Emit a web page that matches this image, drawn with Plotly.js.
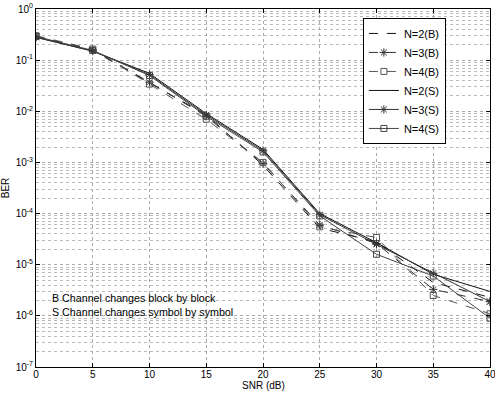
<!DOCTYPE html>
<html>
<head>
<meta charset="utf-8">
<script src="https://cdn.plot.ly/plotly-3.0.1.min.js"></script>
<style>html,body{margin:0;padding:0;background:#fff}#chart{width:495px;height:394px}</style>
</head>
<body>
<div id="chart"></div>
<script>
const snr = [0, 5, 10, 15, 20, 25, 30, 35, 40];
const seriesNames = ["N=2(B)", "N=3(B)", "N=4(B)", "N=2(S)", "N=3(S)", "N=4(S)"];
const ber_N2B = [0.29, 0.155, 0.036, 0.0085, 0.00088, 5.2e-5, 2.8e-5, 4.5e-6, 2.3e-6];
const ber_N3B = [0.29, 0.16, 0.037, 0.008, 0.00095, 6.0e-5, 2.6e-5, 3.3e-6, 1.9e-6];
const ber_N4B = [0.30, 0.165, 0.034, 0.007, 0.001, 5.5e-5, 3.4e-5, 2.5e-6, 1.1e-6];
const ber_N2S = [0.28, 0.15, 0.055, 0.009, 0.0018, 1.0e-4, 2.7e-5, 6.5e-6, 3.0e-6];
const ber_N3S = [0.28, 0.15, 0.052, 0.0085, 0.0017, 9.5e-5, 2.5e-5, 6.8e-6, 1.9e-6];
const ber_N4S = [0.29, 0.155, 0.05, 0.008, 0.0016, 9.0e-5, 1.6e-5, 6.0e-6, 9.0e-7];
const xTicks = [0, 5, 10, 15, 20, 25, 30, 35, 40];
const yTickExp = [0, -1, -2, -3, -4, -5, -6, -7];
const noteLines = ["B Channel changes block by block", "S Channel changes symbol by symbol"];

const allY = [ber_N2B, ber_N3B, ber_N4B, ber_N2S, ber_N3S, ber_N4S];
const styles = [
  {dash: "dash", color: "#111", symbol: "circle", msize: 0},
  {dash: "dash", color: "#333", symbol: "asterisk-open", msize: 7},
  {dash: "dash", color: "#555", symbol: "square-open", msize: 6},
  {dash: "solid", color: "#111", symbol: "circle", msize: 0},
  {dash: "solid", color: "#333", symbol: "asterisk-open", msize: 7},
  {dash: "solid", color: "#444", symbol: "square-open", msize: 6}
];
const traces = allY.map((y, i) => ({
  x: snr, y: y, name: seriesNames[i], type: "scatter",
  mode: styles[i].msize ? "lines+markers" : "lines",
  line: {color: styles[i].color, width: 1, dash: styles[i].dash},
  marker: {symbol: styles[i].symbol, size: styles[i].msize, color: styles[i].color, line: {color: styles[i].color, width: 1}}
}));

const layout = {
  width: 495, height: 394,
  margin: {l: 36, r: 5, t: 9, b: 27},
  paper_bgcolor: "#fff", plot_bgcolor: "#fff",
  font: {family: "Liberation Sans, Arial, sans-serif", size: 10, color: "#000"},
  showlegend: true,
  legend: {x: 0.72, y: 0.975, xanchor: "left", yanchor: "top", bordercolor: "#000", borderwidth: 1,
           bgcolor: "#fff", font: {size: 11}, tracegroupgap: 0},
  xaxis: {
    range: [0, 40], tickvals: xTicks, ticktext: xTicks.map(String), ticklabeloverflow: "allow",
    ticks: "inside", ticklen: 4, tickcolor: "#000", ticklabelstandoff: -2,
    showline: true, linecolor: "#000", linewidth: 1, mirror: "ticks",
    showgrid: true, gridcolor: "#aaa", griddash: "dot", gridwidth: 1, zeroline: false,
    automargin: false
  },
  yaxis: {
    type: "log", range: [-7, 0], tickvals: yTickExp.map(e => Math.pow(10, e)),
    ticktext: yTickExp.map(e => "10<sup>" + e + "</sup>"), ticklabeloverflow: "allow",
    ticks: "inside", ticklen: 4, tickcolor: "#000",
    showline: true, linecolor: "#000", linewidth: 1, mirror: "ticks",
    showgrid: true, gridcolor: "#aaa", griddash: "dot", gridwidth: 1, zeroline: false,
    minor: {dtick: "D1", showgrid: true, gridcolor: "#bbb", griddash: "dot", ticks: ""},
    title: {text: "BER", standoff: 6, font: {size: 10}}, automargin: false
  },
  annotations: noteLines.map((t, i) => ({
    xref: "paper", yref: "paper", x: 0.03, y: 0.192 - i * 0.037, xanchor: "left", yanchor: "middle",
    text: t, showarrow: false, font: {size: 10.7}
  })).concat([{
    xref: "paper", yref: "paper", x: 0.5, y: -0.053, xanchor: "center", yanchor: "middle",
    text: "SNR (dB)", showarrow: false, font: {size: 10}
  }])
};
Plotly.newPlot("chart", traces, layout, {displayModeBar: false, staticPlot: true});
</script>
</body>
</html>
